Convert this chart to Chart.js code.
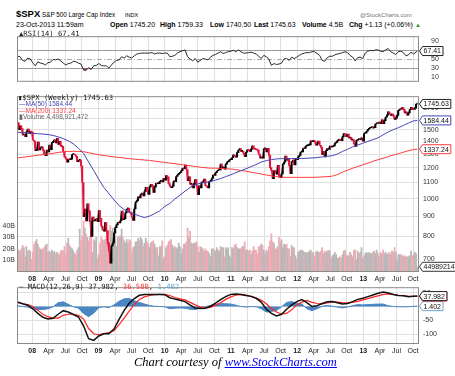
<!DOCTYPE html>
<html>
<head>
<meta charset="utf-8">
<script src="https://cdn.jsdelivr.net/npm/chart.js@4.4.1/dist/chart.umd.min.js"></script>
<style>
  body { margin:0; width:455px; height:376px; background:#fff; position:relative; overflow:hidden;
         font-family:"Liberation Sans", Arial, sans-serif; color:#000; }
  canvas { position:absolute; left:0; }
  .t { position:absolute; white-space:nowrap; line-height:1; }
  .q { position:absolute; white-space:nowrap; line-height:1; top:21px; font-size:7px; }
  .mono { font-family:"DejaVu Sans Mono", monospace; font-size:7.2px; color:#222; }
</style>
</head>
<body>
<div class="t" style="left:16px;top:9px;font-size:9.5px;font-weight:bold">$SPX</div>
<div class="t" style="left:42px;top:12px;font-size:6.3px">S&amp;P 500 Large Cap Index</div>
<div class="t" style="left:125px;top:12.5px;font-size:5.5px">INDX</div>
<div class="t" style="left:360px;top:12px;font-size:6px;color:#777">@StockCharts.com</div>
<div class="q" style="left:16px">23-Oct-2013 11:59am</div>
<div class="q" style="left:110px"><b>Open</b> 1745.20</div>
<div class="q" style="left:160px"><b>High</b> 1759.33</div>
<div class="q" style="left:210px"><b>Low</b> 1740.50</div>
<div class="q" style="left:254px"><b>Last</b> 1745.63</div>
<div class="q" style="left:302px"><b>Volume</b> 4.5B</div>
<div class="q" style="left:349px"><b>Chg</b> +1.13 (+0.06%)</div>
<div class="q" style="left:415px;color:#2a9a2a;font-size:6px;top:22px">&#9650;</div>

<canvas id="rsi" width="455" height="62" style="top:28px"></canvas>
<canvas id="price" width="455" height="196" style="top:88px"></canvas>
<canvas id="macd" width="455" height="77" style="top:279px"></canvas>

<div class="t mono" style="left:19px;top:30px">&#9650;RSI(14) 67.41</div>
<div class="t mono" style="left:18px;top:93.5px">&#9646;$SPX (Weekly) 1745.63</div>
<div class="t" style="left:19px;top:101px;font-size:6.5px;color:#4646b4">&#8212;MA(50) 1584.44</div>
<div class="t" style="left:19px;top:107.5px;font-size:6.5px;color:#ff3c3c">&#8212;MA(200) 1337.24</div>
<div class="t" style="left:19px;top:114px;font-size:6.5px;color:#666">&#9646;Volume 4,498,921,472</div>
<div class="t mono" style="left:19px;top:282.5px">&#8212; MACD(12,26,9) 37.982, <span style="color:#ff3030">36.580</span>, <span style="color:#5fa8d8">1.402</span></div>

<div class="t" style="left:134px;top:355px;font:italic 12.5px 'Liberation Serif', 'Times New Roman', serif">Chart courtesy of <span style="color:#0000ee;text-decoration:underline">www.StockCharts.com</span></div>

<script>
// weekly closes, from the week of 12-Oct-2007
const prevClose = 1557.6;
const closes2007 = [1561.8,1500.6,1535.3,1509.7,1453.7,1458.7,1440.7,1481.1,1504.7,1467.9,1484.5,1478.5];
const closes2008 = [1411.6,1401.0,1325.2,1330.6,1395.4,1331.3,1350.0,1353.1,1330.6,1293.4,1288.1,1329.5,1315.2,
  1370.4,1332.8,1390.3,1397.8,1413.9,1388.3,1425.4,1375.9,1400.4,1360.7,1360.0,1317.9,1278.4,1262.9,1239.5,1260.7,
  1257.8,1260.3,1296.3,1298.2,1292.2,1282.8,1242.3,1251.7,1255.1,1213.3,1099.2,899.2,940.6,876.8,968.8,931.0,873.3,
  800.0,896.2,876.1,879.7,887.9,872.8];
const closes2009 = [931.8,890.4,850.1,832.0,825.9,868.6,826.8,770.1,735.1,683.4,756.6,768.5,815.9,842.5,856.6,869.6,
  866.2,877.5,929.2,882.9,887.0,919.1,940.1,946.2,921.2,918.9,896.4,879.1,940.4,979.3,987.5,1010.5,1004.1,1026.1,
  1028.9,1016.4,1042.7,1068.3,1044.4,1025.2,1071.5,1087.7,1079.6,1036.2,1069.3,1093.5,1091.4,1091.5,1106.0,1106.4,
  1102.5,1126.5,1115.1];
const closes2010 = [1145.0,1136.0,1091.8,1073.9,1066.2,1075.5,1109.2,1104.5,1138.7,1150.0,1159.9,1166.6,1178.1,1194.4,
  1192.1,1217.3,1186.7,1110.9,1135.7,1087.7,1089.4,1064.9,1091.6,1117.5,1076.8,1022.6,1078.0,1064.9,1102.7,1101.6,
  1121.6,1079.3,1071.7,1064.6,1104.5,1109.6,1125.6,1148.7,1146.2,1165.2,1176.2,1183.1,1183.3,1225.9,1199.2,1199.7,
  1189.4,1224.7,1240.4,1243.9,1256.8,1257.6];
const closes2011 = [1271.5,1293.2,1283.4,1276.3,1310.9,1329.2,1343.0,1319.9,1321.2,1304.3,1279.2,1313.8,1332.4,1328.2,
  1319.7,1337.4,1363.6,1340.2,1337.8,1333.3,1331.1,1300.2,1271.0,1271.5,1268.5,1339.7,1343.8,1316.1,1345.0,1292.3,
  1199.4,1178.8,1123.5,1176.8,1174.0,1154.2,1216.0,1136.4,1131.4,1155.5,1224.6,1238.3,1285.1,1253.2,1263.9,1215.7,
  1158.7,1244.3,1255.2,1219.7,1265.3,1257.6];
const closes2012 = [1277.8,1289.1,1315.4,1316.3,1344.9,1342.6,1361.2,1365.7,1369.6,1370.9,1404.2,1397.1,1408.5,1398.1,
  1370.3,1378.5,1403.4,1369.1,1353.4,1295.2,1317.8,1278.0,1325.7,1342.8,1335.0,1362.2,1354.7,1356.8,1362.7,1386.0,
  1391.0,1405.9,1418.2,1411.1,1406.6,1437.9,1465.8,1460.2,1440.7,1460.9,1428.6,1433.2,1411.9,1414.2,1379.9,1359.9,
  1409.2,1416.2,1418.1,1413.6,1430.2,1402.4];
const closes2013 = [1466.5,1472.1,1486.0,1503.0,1513.2,1517.9,1519.8,1515.6,1518.2,1551.2,1560.7,1556.9,1569.2,1553.3,
  1588.9,1555.3,1582.2,1614.4,1633.7,1667.5,1649.6,1630.7,1643.4,1626.7,1592.4,1606.3,1631.9,1680.2,1692.1,1691.7,
  1709.7,1691.4,1655.8,1663.5,1633.0,1655.2,1688.0,1709.9,1691.8,1690.5,1703.2,1744.5,1745.6];

// weekly volume, billions of shares
const vol2007 = [16,19,18,20,23,21,13,22,18,19,18,11];
const vol2008 = [17,24,26,28,24,21,20,19,20,21,23,24,17,18,17,19,17,18,16,17,16,15,18,19,18,22,15,25,29,23,21,20,18,
  16,15,19,21,37,27,31,44,38,33,30,27,31,35,17,28,27,30,12];
const vol2009 = [15,25,30,28,27,28,30,32,36,40,35,38,30,32,22,30,31,31,37,30,27,25,28,25,28,27,17,21,22,26,26,29,27,
  30,28,22,25,29,26,24,21,25,26,27,24,21,21,14,22,22,27,12,14];
const vol2010 = [21,23,26,27,28,23,21,22,20,21,25,22,16,20,24,24,26,38,30,35,25,24,25,25,26,22,17,22,21,20,18,20,18,
  18,16,13,20,20,19,18,21,19,18,22,21,21,13,21,20,21,14,12];
const vol2011 = [21,20,23,24,21,20,20,20,22,22,26,19,19,18,19,15,18,22,19,19,16,22,22,24,23,19,16,19,18,22,27,33,26,
  25,20,20,22,30,25,28,21,24,23,24,20,20,13,23,21,21,14,11];
const vol2012 = [17,18,19,19,18,17,17,16,17,18,19,16,17,13,17,18,17,17,18,21,16,18,17,18,19,18,12,14,15,17,15,12,12,
  13,12,15,18,19,15,14,14,17,15,13,19,19,11,18,16,17,21,12];
const vol2013 = [14,16,17,16,17,16,16,17,18,16,19,16,13,17,16,19,16,17,15,16,17,15,18,17,21,17,10,15,15,15,14,14,14,
  13,13,13,14,18,14,15,17,16,4.5];

// RSI(14), every 2 weeks
const rsiStep = 2;
const rsi14 = [56,55,47,45,52,50,42,35,44,41, 40,37,42,43,49,48,50,46,41,37, 40,41,45,44,41,39,26,25,31,27,
  35,36,40,36,35,35,30,37,43,47, 48,55,52,57,54,52,57,61,62,63, 63,63,63,64,61,63,63,62,63,63,
  55,56,58,63,66,68,70,55,50,46, 51,43,47,51,50,48,54,58,60,63, 66,62,64,66,67,69,66,70,66,63,
  63,64,65,63,61,56,51,58,55,50, 36,40,38,39,41,50,51,47,54,51, 54,58,61,63,64,64,66,66,62,58,
  47,45,53,56,56,59,61,62,64,66, 64,58,54,46,53,54,51,63,67,69, 68,70,70,67,66,70,73,66,63,60,
  66,67,64,57,59,65,61];

// moving averages and MACD, every 4 weeks
const indStep = 4;
const ma50 = [1477,1475,1472,1468,1465,1462,1458,1450,1438,1423, 1405,1380,1345,1305,1240,1180,1120,1068,1030,992,
  960,937,924,913,903,894,902,915,930,955, 972,998,1020,1045,1068,1085,1094,1100,1106,1115,
  1125,1138,1150,1165,1178,1192,1207,1222,1240,1250, 1258,1263,1265,1265,1266,1266,1266,1268,1270,1273,
  1278,1282,1287,1300,1320,1337,1355,1370,1385,1400, 1415,1430,1455,1480,1500,1518,1538,1560,1580];
const ma200 = [1270,1275,1280,1285,1290,1296,1300,1305,1312,1317, 1320,1321,1320,1318,1310,1302,1294,1289,1283,1278,
  1274,1270,1265,1261,1258,1255,1252,1247,1242,1237, 1232,1228,1223,1218,1213,1208,1203,1199,1196,1196,
  1194,1192,1190,1186,1180,1175,1168,1162,1155,1149, 1143,1138,1134,1133,1133,1133,1133,1133,1133,1134,
  1136,1138,1141,1152,1168,1182,1195,1208,1220,1232, 1245,1257,1268,1280,1292,1302,1314,1325,1335];
const macdLine = [17,10,5,-8,-25,-39,-45,-43,-28,-15, -20,-29,-38,-70,-117,-123,-107,-99,-99,-82,
  -47,-14,12,29,41,44,44,44,44,43, 32,27,23,18,5,-5,-7,-6,1,12, 25,36,44,46,44,40,37,30,16,-10,
  -25,-34,-28,-10,6,18,25,14,0,3, 11,17,18,14,9,11,18,26,30,36, 42,48,53,49,44,40,39,36,37];
const signalLine = [14,10,7,0,-14,-28,-37,-42,-42,-32, -28,-28,-32,-45,-80,-99,-103,-98,-95,-88,
  -66,-42,-17,8,26,35,40,43,44,44, 40,33,28,24,15,6,-2,-5,-3,5, 14,26,35,41,44,42,37,31,24,10,
  -7,-20,-27,-25,-12,6,16,22,15,11, 10,13,17,16,14,13,15,19,24,29, 34,39,44,46,44,41,40,37,37];
const histo = [3,0,-2,-8,-11,-11,-8,-1,14,17, 8,-1,-6,-25,-37,-24,-4,-1,-4,6, 19,28,29,21,15,9,4,1,0,-1,
  -8,-6,-5,-6,-10,-11,-5,-1,4,7, 11,10,9,5,0,-2,0,-1,-8,-20, -18,-14,-1,15,18,12,9,-8,-15,-8,
  1,4,1,-2,-5,-2,3,7,6,7, 8,9,9,3,0,-1,-1,-1,1];

// latest readings (23-Oct-2013)
const lastRsi = 67.41, lastMa50 = 1584.44, lastMa200 = 1337.24;
const lastMacd = 37.982, lastSignal = 36.580, lastHisto = 1.402;
const lastClose = 1745.63, lastVolume = 4.498921472;

// axis ticks
const yearLabels = ['08','09','10','11','12','13'];
const monthLabels = ['Apr','Jul','Oct'];
const priceTicks = [700,800,900,1000,1100,1200,1300,1400,1500,1600,1700];
const volTicks = [10,20,30,40];
const rsiTicks = [10,30,50,70,90];
const macdTicks = [-100,-50,0,50];

const closes = [].concat(closes2007, closes2008, closes2009, closes2010, closes2011, closes2012, closes2013);
const volumes = [].concat(vol2007, vol2008, vol2009, vol2010, vol2011, vol2012, vol2013);

const startYear = 2007.778;
const weekYears = 7 / 365.25;
const lastWeek = closes.length - 1;
const xMin = 2007.77, xMax = 2013.84;
const red = '#e3123a';

const weekX = closes.map((c, w) => startYear + w * weekYears);
const opens = closes.map((c, w) => w ? closes[w - 1] : prevClose);
const barColors = closes.map((c, w) => w == lastWeek ? '#1f9a1f' : (c >= opens[w] ? '#000' : red));
const volColors = closes.map((c, w) => c >= opens[w] ? '#b8b8b8' : '#efaab3');

function stepPoints(values, step, last) {
  const pts = values.map((v, i) => ({ x: startYear + i * step * weekYears, y: v }));
  pts.push({ x: startYear + lastWeek * weekYears, y: last });
  return pts;
}

const quarterTicks = [];
for (let y = 2008; y <= 2013.76; y += 0.25) quarterTicks.push(y);

function tickLabel(v) {
  const q = Math.round((v - Math.floor(v)) * 4);
  return q == 0 ? yearLabels[Math.floor(v) - 2008] : monthLabels[q - 1];
}

Chart.defaults.font.family = '"Liberation Sans", Arial, sans-serif';
Chart.defaults.font.size = 7;
Chart.defaults.color = '#333';
Chart.defaults.animation = false;
Chart.defaults.events = [];
Chart.defaults.plugins.legend.display = false;
Chart.defaults.plugins.tooltip.enabled = false;

function xAxis(showLabels) {
  return {
    type: 'linear', min: xMin, max: xMax, offset: false,
    afterBuildTicks: s => { s.ticks = quarterTicks.map(v => ({ value: v })); },
    afterFit: s => { s.height = showLabels ? 12 : 0; },
    grid: { color: '#e0e0e0', drawTicks: false, offset: false },
    border: { display: false },
    ticks: {
      display: showLabels, autoSkip: false, maxRotation: 0, padding: 3, color: '#222',
      callback: v => tickLabel(v),
      font: c => ({ size: 7, weight: c.tick && c.tick.value % 1 == 0 ? 'bold' : 'normal' })
    }
  };
}

function rightAxis(extra) {
  return Object.assign({
    position: 'right',
    afterFit: s => { s.width = 36; },
    grid: { color: '#e0e0e0', drawTicks: false },
    border: { display: false },
    ticks: { padding: 4, color: '#333', callback: v => String(v) }
  }, extra);
}

function drawBox(ctx, x, y, text, color) {
  ctx.font = '7px "Liberation Sans", Arial, sans-serif';
  const w = ctx.measureText(text).width + 6;
  ctx.beginPath();
  ctx.moveTo(x, y);
  ctx.lineTo(x + 3, y - 4.5);
  ctx.lineTo(x + w, y - 4.5);
  ctx.lineTo(x + w, y + 4.5);
  ctx.lineTo(x + 3, y + 4.5);
  ctx.closePath();
  ctx.fillStyle = '#fff';
  ctx.fill();
  ctx.strokeStyle = color;
  ctx.lineWidth = 1;
  ctx.stroke();
  ctx.fillStyle = '#111';
  ctx.textBaseline = 'middle';
  ctx.textAlign = 'left';
  ctx.fillText(text, x + 4, y + 0.5);
}

// frame around each panel, reference lines and the value boxes on the right
const panel = {
  id: 'panel',
  beforeDatasetsDraw(chart, args, opts) {
    const { ctx, chartArea: a } = chart;
    (opts.lines || []).forEach(l => {
      const y = Math.round(chart.scales[l.axis].getPixelForValue(l.value)) + 0.5;
      ctx.save();
      ctx.strokeStyle = l.color;
      ctx.lineWidth = 1;
      ctx.setLineDash(l.dash || []);
      ctx.beginPath();
      ctx.moveTo(a.left, y);
      ctx.lineTo(a.right, y);
      ctx.stroke();
      ctx.restore();
    });
  },
  afterDraw(chart, args, opts) {
    const { ctx, chartArea: a } = chart;
    ctx.save();
    ctx.strokeStyle = '#8a8a8a';
    ctx.lineWidth = 1;
    ctx.strokeRect(a.left + 0.5, a.top + 0.5, a.right - a.left - 1, a.bottom - a.top - 1);
    (opts.boxes || []).forEach(b => {
      drawBox(ctx, a.right + 0.5, chart.scales[b.axis].getPixelForValue(b.value), b.text, b.color);
    });
    ctx.restore();
  }
};

// RSI panel
new Chart(document.getElementById('rsi'), {
  type: 'line',
  data: { datasets: [{
    data: stepPoints(rsi14, rsiStep, lastRsi),
    borderColor: '#2a2a2a', borderWidth: 1, pointRadius: 0, tension: 0,
    fill: { target: { value: 30 }, above: 'rgba(0,0,0,0)', below: '#b4506e' }
  }] },
  options: {
    responsive: false, devicePixelRatio: 1,
    layout: { padding: { top: 3, left: 17 } },
    scales: {
      x: xAxis(false),
      y: rightAxis({ min: 0, max: 100, grid: { display: false },
        afterBuildTicks: s => { s.ticks = rsiTicks.map(v => ({ value: v })); } })
    },
    plugins: { panel: {
      lines: [{ axis: 'y', value: 70, color: '#9a9a9a' }, { axis: 'y', value: 30, color: '#9a9a9a' },
              { axis: 'y', value: 50, color: '#aaa', dash: [5, 2, 1, 2] }],
      boxes: [{ axis: 'y', value: lastRsi, text: lastRsi.toFixed(2), color: '#222' }]
    } }
  },
  plugins: [panel]
});

// price + volume panel
const pricePoints = closes.map((c, w) => ({ x: weekX[w], y: c }));
const barPoints = closes.map((c, w) => ({ x: weekX[w], y: [opens[w], c] }));
const volPoints = volumes.map((v, w) => ({ x: weekX[w], y: v }));

new Chart(document.getElementById('price'), {
  type: 'bar',
  data: { datasets: [
    { type: 'line', data: stepPoints(ma50, indStep, lastMa50), yAxisID: 'price',
      borderColor: '#4646b4', borderWidth: 1, pointRadius: 0, order: 0 },
    { type: 'line', data: stepPoints(ma200, indStep, lastMa200), yAxisID: 'price',
      borderColor: '#ff3c3c', borderWidth: 1, pointRadius: 0, order: 0 },
    { type: 'line', data: pricePoints, yAxisID: 'price', borderWidth: 0.9, pointRadius: 0, order: 1,
      segment: { borderColor: c => c.p1.parsed.y >= c.p0.parsed.y ? '#000' : red } },
    { type: 'bar', data: barPoints, yAxisID: 'price', backgroundColor: barColors,
      barThickness: 1.2, minBarLength: 1, grouped: false, order: 2 },
    { type: 'bar', data: volPoints, yAxisID: 'vol', backgroundColor: volColors,
      barThickness: 1.1, grouped: false, order: 3 }
  ] },
  options: {
    responsive: false, devicePixelRatio: 1,
    layout: { padding: { top: 2 } },
    scales: {
      x: xAxis(true),
      price: rightAxis({ type: 'logarithmic', min: 649, max: 1827,
        afterBuildTicks: s => { s.ticks = priceTicks.map(v => ({ value: v })); } }),
      vol: {
        type: 'linear', position: 'left', min: 0, max: 151.7,
        afterBuildTicks: s => { s.ticks = volTicks.map(v => ({ value: v })); },
        afterFit: s => { s.width = 17; },
        grid: { drawOnChartArea: false, drawTicks: false },
        border: { display: false },
        ticks: { padding: 2, color: '#333', callback: v => v + 'B' }
      }
    },
    plugins: { panel: {
      boxes: [
        { axis: 'vol', value: lastVolume, text: '4498921472', color: '#333' },
        { axis: 'price', value: lastMa200, text: lastMa200.toFixed(2), color: '#ff3c3c' },
        { axis: 'price', value: lastMa50, text: lastMa50.toFixed(2), color: '#4646b4' },
        { axis: 'price', value: lastClose, text: lastClose.toFixed(2), color: '#222' }
      ]
    } }
  },
  plugins: [panel]
});

// MACD panel
new Chart(document.getElementById('macd'), {
  type: 'line',
  data: { datasets: [
    { data: stepPoints(macdLine, indStep, lastMacd), borderColor: '#111', borderWidth: 1.5,
      pointRadius: 0, order: 0 },
    { data: stepPoints(signalLine, indStep, lastSignal), borderColor: '#ff2424', borderWidth: 1.2,
      pointRadius: 0, order: 1 },
    { data: stepPoints(histo, indStep, lastHisto), borderColor: '#4a86c2', backgroundColor: '#4a86c2',
      borderWidth: 1, pointRadius: 0, fill: 'origin', order: 2 }
  ] },
  options: {
    responsive: false, devicePixelRatio: 1,
    layout: { padding: { top: 2, left: 17 } },
    scales: {
      x: xAxis(true),
      y: rightAxis({ min: -136.3, max: 70.3,
        afterBuildTicks: s => { s.ticks = macdTicks.map(v => ({ value: v })); } })
    },
    plugins: { panel: {
      boxes: [
        { axis: 'y', value: lastHisto, text: lastHisto.toFixed(3), color: '#6aa6d6' },
        { axis: 'y', value: lastSignal, text: lastSignal.toFixed(3), color: '#ff2424' },
        { axis: 'y', value: lastMacd, text: lastMacd.toFixed(3), color: '#222' }
      ]
    } }
  },
  plugins: [panel]
});
</script>
</body>
</html>
